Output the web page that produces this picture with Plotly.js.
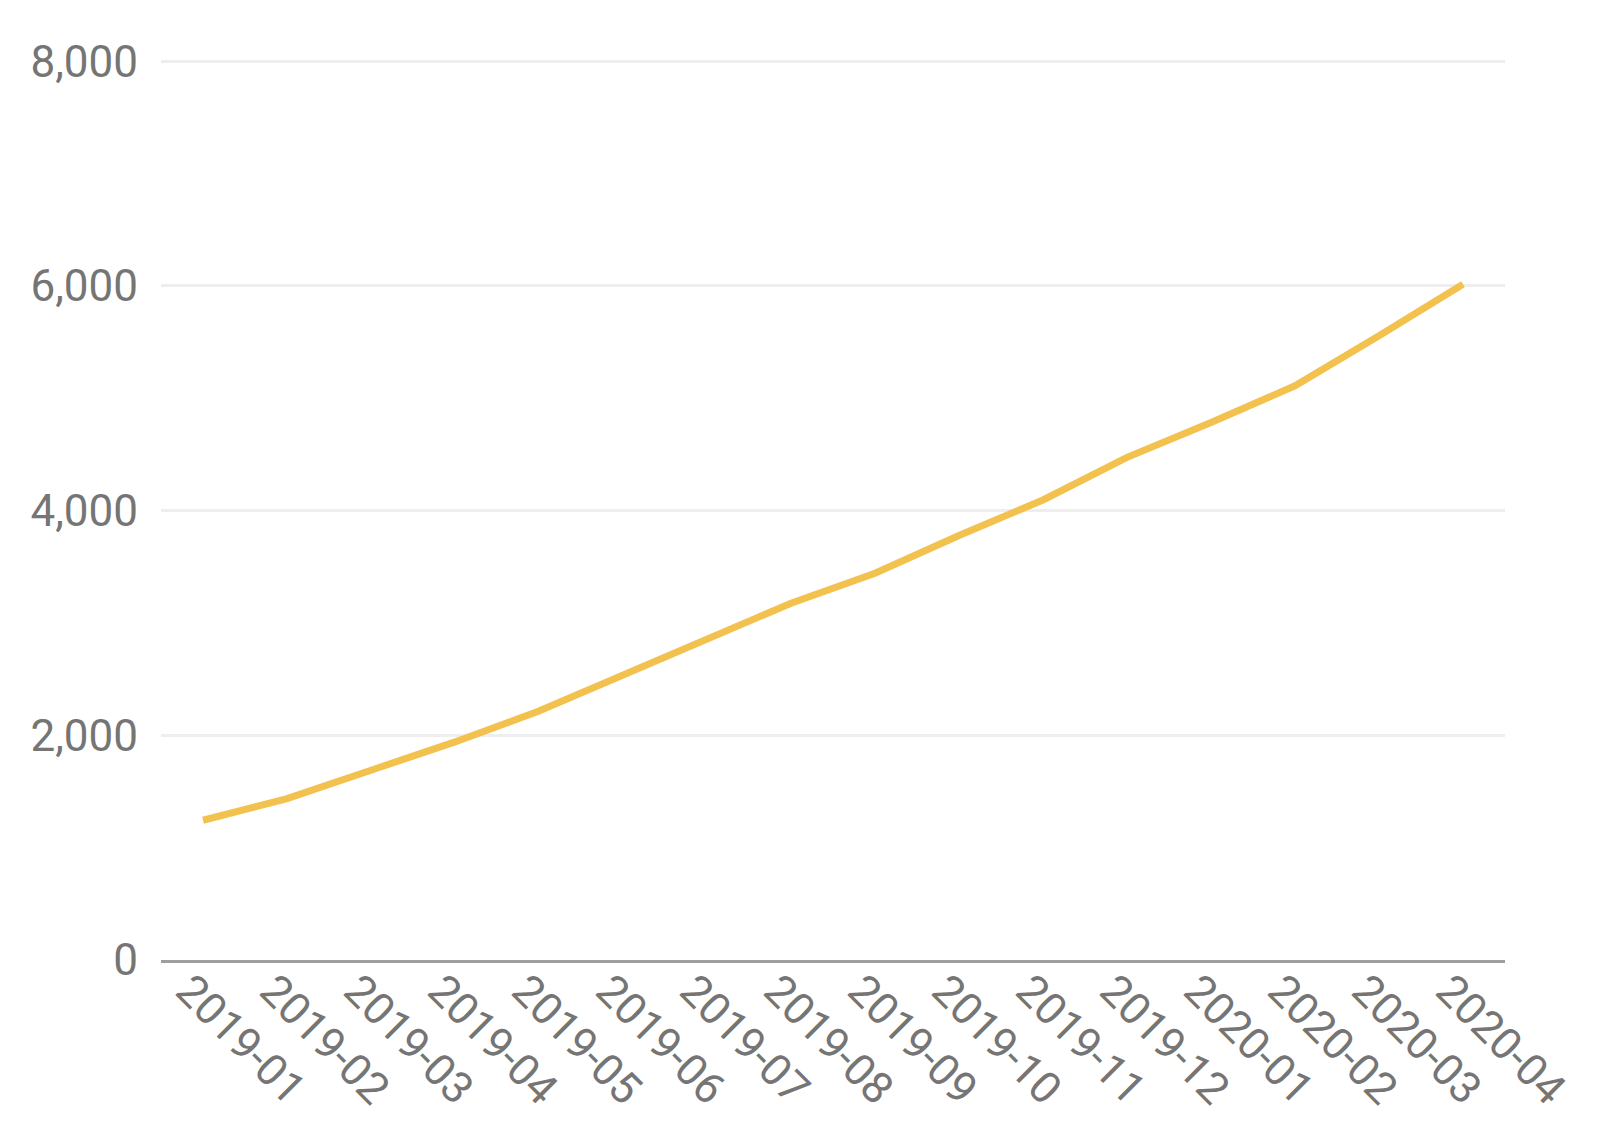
<!DOCTYPE html>
<html>
<head>
<meta charset="utf-8">
<script src="https://cdn.plot.ly/plotly-3.0.1.min.js"></script>
<style>
    html, body { margin: 0; padding: 0; background: #ffffff; }
    #chart { width: 1600px; height: 1134px; }
</style>
</head>
<body>
<div id="chart"></div>
<script>
"use strict";

// months on the x axis
var months = ["2019-01", "2019-02", "2019-03", "2019-04", "2019-05", "2019-06", "2019-07", "2019-08",
    "2019-09", "2019-10", "2019-11", "2019-12", "2020-01", "2020-02", "2020-03", "2020-04"];

// values
var values = [1244, 1437, 1689, 1941, 2216, 2533, 2844, 3176,
    3443, 3778, 4095, 4474, 4785, 5111, 5556, 6015];

var yTicks = [0, 2000, 4000, 6000, 8000];

var trace = {
    x: months,
    y: values,
    type: "scatter",
    mode: "lines",
    line: { color: "#f2c14e", width: 7 },
    hoverinfo: "x+y"
};

var layout = {
    width: 1600,
    height: 1134,
    margin: { l: 161, r: 95, t: 59, b: 174 },
    paper_bgcolor: "#ffffff",
    plot_bgcolor: "#ffffff",
    showlegend: false,
    font: { family: "Roboto, sans-serif", size: 44, color: "#757575" },
    xaxis: {
        type: "category",
        range: [-0.5, months.length - 0.5],
        tickangle: 45,
        showgrid: false,
        zeroline: false,
        showline: true,
        linecolor: "#9e9e9e",
        linewidth: 3,
        ticks: "",
        ticklabelstandoff: -16,
        ticklabelshift: -14,
        tickfont: { family: "Roboto, sans-serif", size: 44, color: "#757575" }
    },
    yaxis: {
        // a little headroom so the 8,000 grid line is still drawn
        range: [0, 8020],
        tickvals: yTicks,
        tickformat: ",d",
        showgrid: true,
        gridcolor: "#eeeeee",
        gridwidth: 3,
        zeroline: false,
        showline: false,
        ticks: "",
        ticklabelstandoff: 22,
        tickfont: { family: "Roboto, sans-serif", size: 44, color: "#757575" }
    }
};

Plotly.newPlot("chart", [trace], layout, { displayModeBar: false, staticPlot: true });
</script>
</body>
</html>
